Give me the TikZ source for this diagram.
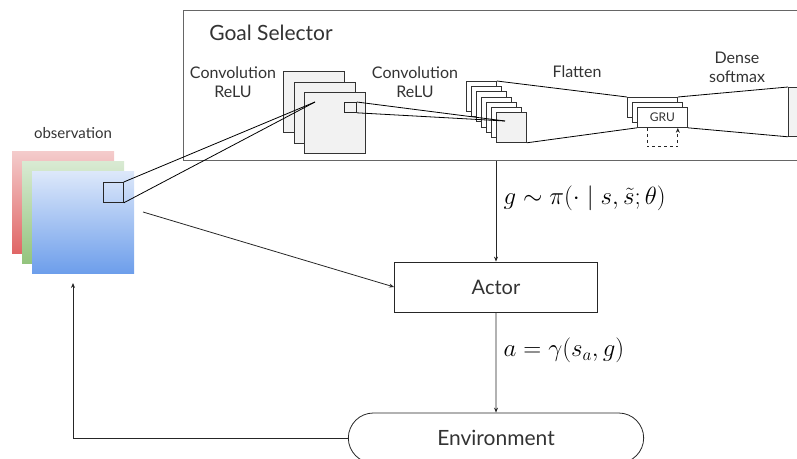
\documentclass[tikz,border=0pt]{standalone}
\usepackage{fontspec}
\setmainfont{Lato}
\usepackage{tikz}
\usetikzlibrary{arrows.meta,positioning,shapes.misc}
\usepackage{xcolor}
\definecolor{obsredtop}{HTML}{F4CCCC}
\definecolor{obsredbot}{HTML}{E06666}
\definecolor{obsgreentop}{HTML}{D9EAD3}
\definecolor{obsgreenbot}{HTML}{93C47D}
\definecolor{obsbluetop}{HTML}{DDE8FA}
\definecolor{obsbluebot}{HTML}{6D9EEB}
\definecolor{mapfill}{HTML}{F2F2F2}

\begin{document}
\begin{tikzpicture}[
  x=1pt,y=-1pt,
  every node/.style={text=black!80,font=\fontsize{16}{19}\selectfont},
  gsbox/.style={draw=black!60,line width=1.4pt,anchor=north west,minimum width=650,minimum height=150,inner sep=0},
  obsmap/.style={anchor=north west,minimum size=102,inner sep=0},
  fmap/.style={draw=black!80,fill=mapfill,anchor=north west,inner sep=0,line width=0.8pt},
  patch/.style={draw=black!85,anchor=north west,inner sep=0,line width=0.8pt},
  proc/.style={draw=black!85,line width=0.8pt,minimum width=203,minimum height=50,font=\fontsize{20}{24}\selectfont},
  envbox/.style={draw=black!85,line width=0.8pt,rounded rectangle,minimum width=302,minimum height=50,font=\fontsize{21}{25}\selectfont},
  lbl/.style={align=center,font=\fontsize{16}{19}\selectfont},
  mathlbl/.style={font=\fontsize{25}{29}\selectfont,text=black,xshift=4pt},
  proj/.style={black,line width=0.8pt},
  arr/.style={-{Stealth[length=5pt,width=4pt]},black!85,line width=0.8pt}
]
\clip (0,0) rectangle (797,458);

% goal selector frame
\node[gsbox] (goalsel) at (183,10) {};
\node[font=\fontsize{21}{24}\selectfont] (gstitle) at (271,33) {Goal Selector};

% observation
\node[obsmap,top color=obsredtop,bottom color=obsredbot] (obsr) at (12,151) {};
\node[obsmap,top color=obsgreentop,bottom color=obsgreenbot] (obsg) at (22,161) {};
\node[obsmap,top color=obsbluetop,bottom color=obsbluebot] (obsb) at (32,171) {};
\node[font=\fontsize{15}{18}\selectfont] (obslbl) at (73,133) {observation};
\node[patch,minimum size=20] (opatch) at (103,182) {};

% first convolution
\node[lbl] (conv1lbl) at (233,82) {Convolution\\ReLU};
\node[fmap,minimum size=61] (c1a) at (283,71) {};
\node[fmap,minimum size=61] (c1b) at (293.5,81.5) {};
\node[fmap,minimum size=61] (c1c) at (304,92) {};
\node[patch,minimum width=12,minimum height=10] (c1patch) at (344,102) {};
\coordinate (c1focus) at (315,102);

% second convolution
\node[lbl] (conv2lbl) at (415,82) {Convolution\\ReLU};
\foreach \i in {0,...,5}
  \node[fmap,fill=white,minimum size=30] (c2\i) at (466+5*\i,81+5.17*\i) {};
\node[fmap,minimum size=30] (c2last) at (496,112) {};
\coordinate (c2focus) at (505,121);

% flatten, GRU, dense
\node[lbl] (flatlbl) at (577,72) {Flatten};
\node[fmap,fill=white,minimum width=50,minimum height=20] (gru1) at (627,97) {};
\node[fmap,fill=white,minimum width=50,minimum height=20] (gru2) at (632,102) {};
\node[fmap,fill=white,minimum width=50,minimum height=20,font=\fontsize{12}{14}\selectfont] (gru3) at (637,107) {GRU};
\node[lbl] (denselbl) at (737,67) {Dense\\softmax};
\node[fmap,minimum width=30,minimum height=49] (dense) at (788,87) {};

% actor and environment
\node[proc] (actor) at (496,287) {Actor};
\node[envbox] (env) at (496,438) {Environment};
\coordinate (obsout) at (143,212);
\coordinate (obsin) at (73,283);

\draw[proj] (opatch.north east) -- (c1focus);
\draw[proj] (opatch.south east) -- (c1focus);
\draw[proj] (c1patch.north east) -- (c2focus);
\draw[proj] (c1patch.south east) -- (c2focus);
\draw[proj] (c20.north east) -- (gru1.north west);
\draw[proj] (c2last.south east) -- (gru3.south west);
\draw[proj] (gru1.north east) -- (dense.north west);
\draw[proj] (gru3.south east) -- (dense.south west);
\draw[arr,dashed] ([xshift=10pt]gru3.south west) -- ++(0,19) -| ([xshift=-10pt]gru3.south east);

\draw[arr] (goalsel.south -| actor) -- node[right,pos=.37,mathlbl]{$g\sim\pi(\cdot\mid s,\tilde{s};\theta)$} (actor);
\draw[arr] (actor) -- node[right,pos=.38,mathlbl]{$a=\gamma(s_a,g)$} (env);
\draw[arr] (obsout) -- (actor.west);
\draw[arr] (env.west) -| (obsin);
\end{tikzpicture}
\end{document}
